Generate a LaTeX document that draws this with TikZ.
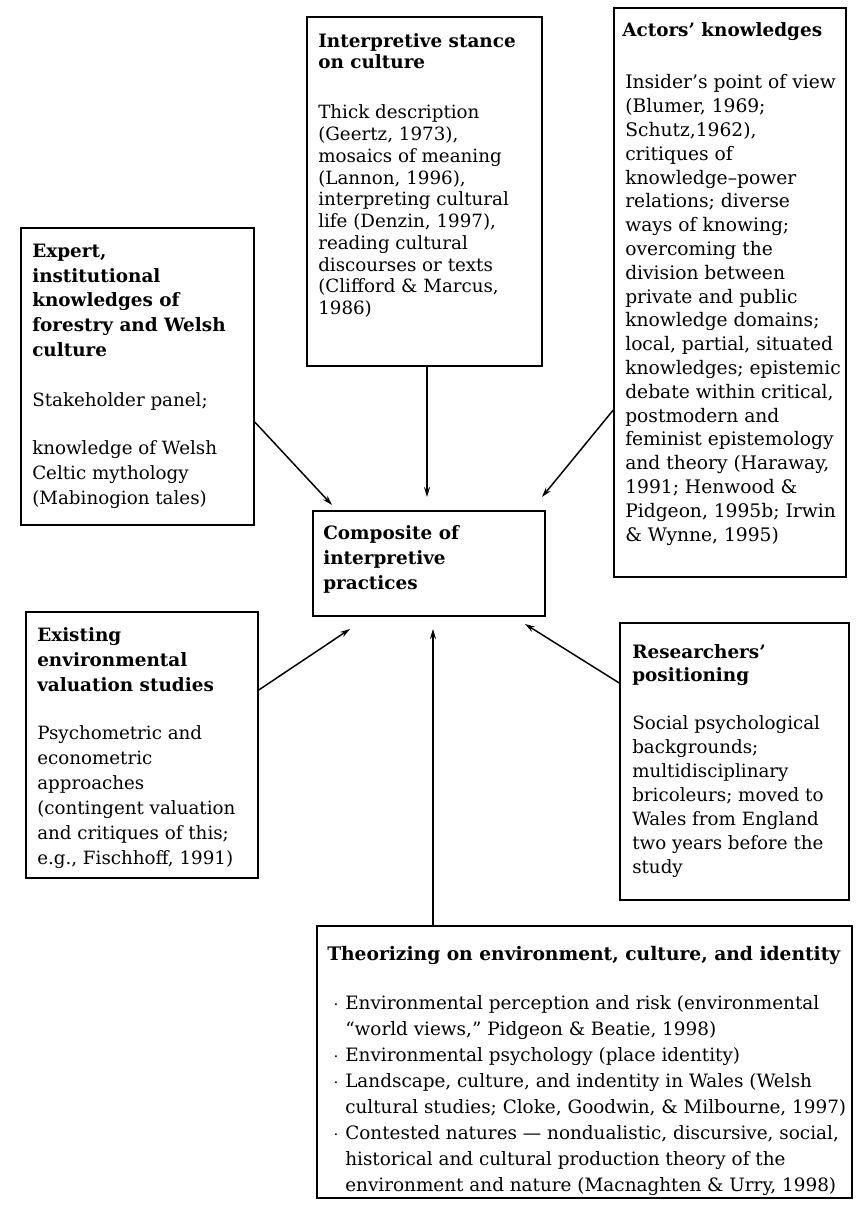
\documentclass[tikz,border=0pt]{standalone}
\usepackage{fontspec}
\setmainfont{DejaVu Serif}
\usetikzlibrary{arrows.meta,fit}
\tikzset{
  box/.style={draw, line width=1.1pt, inner sep=0pt},
  txt/.style={inner sep=0pt, align=left, anchor=base west},
  arr/.style={line width=1.1pt, -{Stealth[length=7.5pt,width=4.5pt]}},
}
\newcommand{\fsz}[1]{\fontsize{13.7}{#1}\selectfont}
\newcommand{\fsb}[1]{\fontsize{13.8}{#1}\selectfont}
\begin{document}
\begin{tikzpicture}[x=0.75pt,y=-0.75pt]
\useasboundingbox[fill=white] (0,0) rectangle (859,1205);
% boxes
\node[box, fit={(307,17) (542,366)}] (interp) {};
\node[box, fit={(614,8) (846,577)}] (act) {};
\node[box, fit={(21,228) (254,525)}] (exp) {};
\node[box, fit={(313,511) (545,616)}] (comp) {};
\node[box, fit={(26,612) (258,878)}] (exi) {};
\node[box, fit={(620,623) (849,900)}] (res) {};
\node[box, fit={(317,926) (852,1198)}] (theo) {};
% texts (anchored at the baseline of their last line)
\node[txt, font=\bfseries\fsb{15.75}] (interpH) at (318,69) {Interpretive stance\\on culture};
\node[txt, font=\fsz{16.3}] (interpB) at (318,314.6) {Thick description\\(Geertz, 1973),\\mosaics of meaning\\(Lannon, 1996),\\interpreting cultural\\life (Denzin, 1997),\\reading cultural\\discourses or texts\\(Clifford \& Marcus,\\1986)};
\node[txt, font=\bfseries\fsb{17.85}] (actH) at (622,37) {Actors' knowledges};
\node[txt, font=\fontsize{14}{17.85}\selectfont] (actB) at (625,541) {Insider's point of view\\(Blumer, 1969;\\Schutz,1962),\\critiques of\\knowledge--power\\relations; diverse\\ways of knowing;\\overcoming the\\division between\\private and public\\knowledge domains;\\local, partial, situated\\knowledges; epistemic\\debate within critical,\\postmodern and\\feminist epistemology\\and theory (Haraway,\\1991; Henwood \&\\Pidgeon, 1995b; Irwin\\\& Wynne, 1995)};
\node[txt, font=\bfseries\fsb{18.4}] (expH) at (32,356) {Expert,\\institutional\\knowledges of\\forestry and Welsh\\culture};
\node[txt, font=\fsz{18.75}] (expB1) at (32,406) {Stakeholder panel;};
\node[txt, font=\fsz{18.75}] (expB2) at (32,504) {knowledge of Welsh\\Celtic mythology\\(Mabinogion tales)};
\node[txt, font=\bfseries\fsb{18.75}] (compT) at (323,589) {Composite of\\interpretive\\practices};
\node[txt, font=\bfseries\fsb{18.75}] (exiH) at (37,691) {Existing\\environmental\\valuation studies};
\node[txt, font=\fsz{18.75}] (exiB) at (37,864) {Psychometric and\\econometric\\approaches\\(contingent valuation\\and critiques of this;\\e.g., Fischhoff, 1991)};
\node[txt, font=\bfseries\fsb{17.25}] (resH) at (632,681) {Researchers'\\positioning};
\node[txt, font=\fsz{18}] (resB) at (632,873) {Social psychological\\backgrounds;\\multidisciplinary\\bricoleurs; moved to\\Wales from England\\two years before the\\study};
\node[txt, font=\bfseries\fontsize{14}{19.5}\selectfont] (theoH) at (327,960) {Theorizing on environment, culture, and identity};
\node[txt, font=\fontsize{13.8}{19.5}\selectfont] (theoB) at (345,1191) {\llap{$\cdot$\hspace{5pt}}Environmental perception and risk (environmental\\``world views,'' Pidgeon \& Beatie, 1998)\\\llap{$\cdot$\hspace{5pt}}Environmental psychology (place identity)\\\llap{$\cdot$\hspace{5pt}}Landscape, culture, and indentity in Wales (Welsh\\cultural studies; Cloke, Goodwin, \& Milbourne, 1997)\\\llap{$\cdot$\hspace{5pt}}Contested natures --- nondualistic, discursive, social,\\historical and cultural production theory of the\\environment and nature (Macnaghten \& Urry, 1998)};
% arrow ends
\coordinate (cT) at (427,497);
\coordinate (cE) at (332,505);
\coordinate (cA) at (542,497);
\coordinate (cX) at (350,629);
\coordinate (cB) at (433,629);
\coordinate (cR) at (525,624);
% arrows
\draw[arr] (interp.south -| cT) -- (cT);
\draw[arr] (exp.east |- 0,422) -- (cE);
\draw[arr] (act.west |- 0,410) -- (cA);
\draw[arr] (exi.east |- 0,690) -- (cX);
\draw[arr] (theo.north -| cB) -- (cB);
\draw[arr] (res.west |- 0,683) -- (cR);
\end{tikzpicture}
\end{document}
